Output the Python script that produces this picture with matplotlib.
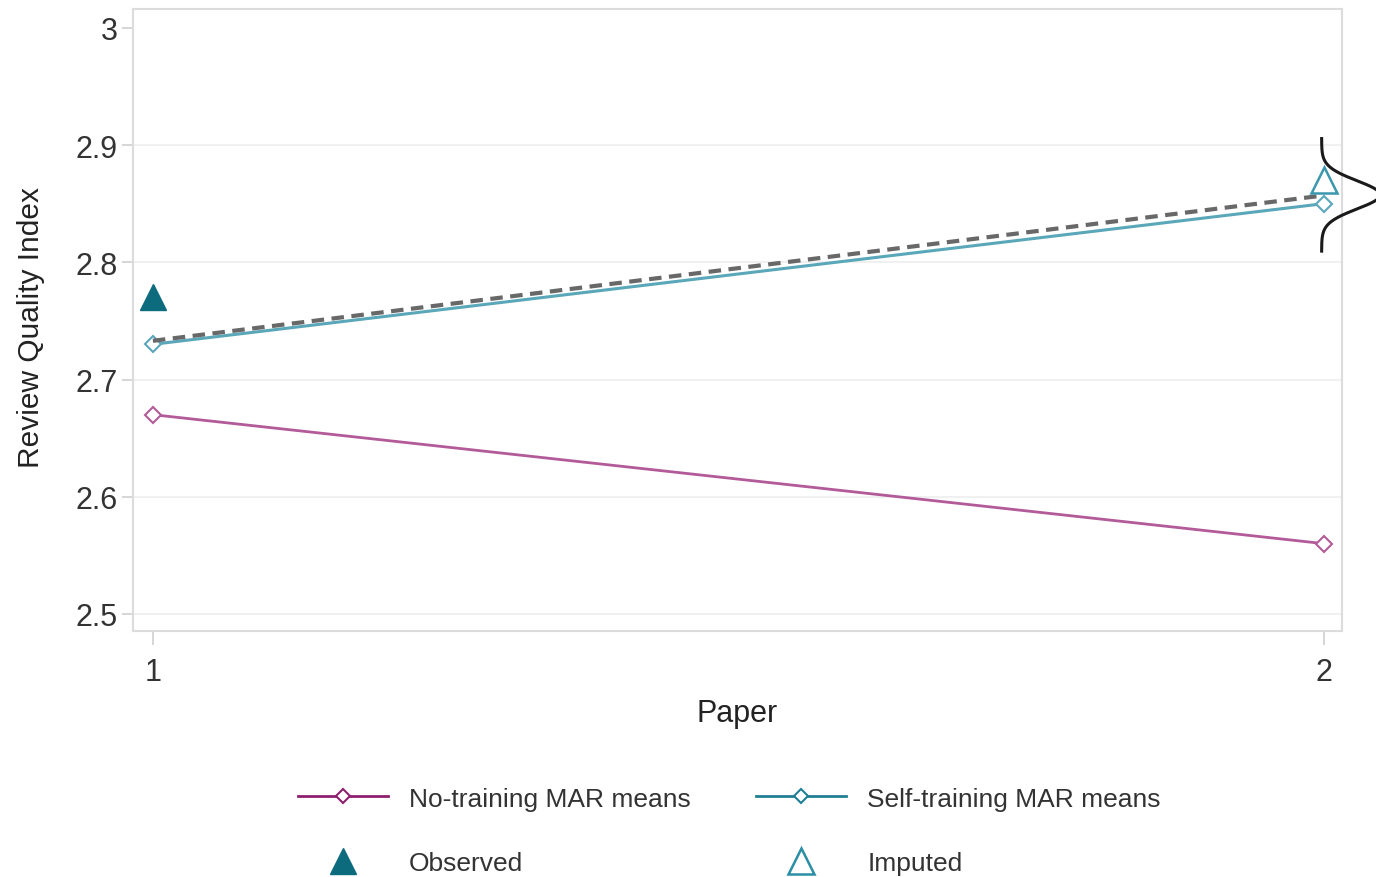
import numpy as np
import matplotlib
matplotlib.use("Agg")
import matplotlib.pyplot as plt
from matplotlib.lines import Line2D

plt.rcParams['font.family'] = ['Liberation Sans', 'DejaVu Sans']

# Data
papers = [1, 2]
no_training = [2.67, 2.56]
self_training = [2.73, 2.85]
pooled_dashed = [2.733, 2.857]
observed_x, observed_y = 1, 2.77
imputed_x, imputed_y = 2, 2.87
density_mean, density_sd = 2.8575, 0.012
yticks = [2.5, 2.6, 2.7, 2.8, 2.9, 3.0]
ytick_labels = ["2.5", "2.6", "2.7", "2.8", "2.9", "3"]

c_no = "#b35a99"
c_no_dark = "#8e1f6e"
c_self = "#5aa7b9"
c_self_dark = "#1f7f93"
c_obs = "#0d6b7e"

fig = plt.figure(figsize=(13.76, 8.78), dpi=100)
ax = fig.add_axes([133/1376, 1-632/878, (1342-133)/1376, (632-10)/878])

ax.set_xlim(0.983, 2.0154)
ax.set_ylim(2.4855, 3.016)

for y in yticks[:-1]:
    ax.axhline(y, color="#f0f0f0", lw=1.5, zorder=0)

ax.plot(papers, no_training, color=c_no, lw=2, marker="D", ms=8,
        mfc="white", mec=c_no, mew=1.5, zorder=3)
ax.plot(papers, self_training, color=c_self, lw=2.2, marker="D", ms=8,
        mfc="white", mec=c_self, mew=1.5, zorder=3)
ax.plot(papers, pooled_dashed, color="#686868", lw=3, ls=(0, (3, 1.8)), zorder=4)

ax.plot([observed_x], [observed_y], marker="^", ms=19, color=c_obs, ls="none", zorder=5)
ax.plot([imputed_x], [imputed_y], marker="^", ms=19, mfc="none", mec="#3a97ad",
        mew=1.8, ls="none", zorder=5, clip_on=False)

# Sideways density of imputed values at paper 2
yy = np.linspace(density_mean - 0.048, density_mean + 0.048, 300)
pdf = np.exp(-0.5 * ((yy - density_mean) / density_sd) ** 2)
ax.plot(2 - 0.002 + 0.05 * pdf, yy, color="#1a1a1a", lw=2.2, clip_on=False, zorder=6)

ax.set_yticks(yticks)
ax.set_yticklabels(ytick_labels)
ax.set_xticks(papers)
ax.set_xticklabels(["1", "2"])
ax.tick_params(axis="y", length=8, width=1.2, color="#cfcfcf", pad=3,
               labelsize=22, labelcolor="#333333")
ax.tick_params(axis="x", length=10, width=1.2, color="#cfcfcf", pad=9,
               labelsize=22, labelcolor="#333333")
for s in ax.spines.values():
    s.set_color("#dcdcdc")
    s.set_linewidth(1.5)

ax.set_xlabel("Paper", fontsize=22, color="#222222", labelpad=8)
ax.set_ylabel("Review Quality Index", fontsize=21.5, color="#222222")
ax.yaxis.set_label_coords(-0.073, 0.49)

handles = [
    Line2D([], [], color=c_no_dark, lw=2, marker="D", ms=7, mfc="white", mec=c_no_dark, mew=1.5),
    Line2D([], [], color=c_obs, marker="^", ms=19, ls="none"),
    Line2D([], [], color=c_self_dark, lw=2, marker="D", ms=7, mfc="white", mec=c_self_dark, mew=1.5),
    Line2D([], [], marker="^", ms=19, mfc="none", mec="#2a8ea5", mew=1.8, ls="none"),
]
labels = ["No-training MAR means", "Observed", "Self-training MAR means", "Imputed"]
fig.legend(handles, labels, ncol=2, loc="center", bbox_to_anchor=(0.53, 1-832/878),
           frameon=False, fontsize=19, handlelength=3.4, handletextpad=0.8,
           columnspacing=2.5, labelspacing=1.55, labelcolor="#333333")

fig.savefig("out.png", dpi=100)
